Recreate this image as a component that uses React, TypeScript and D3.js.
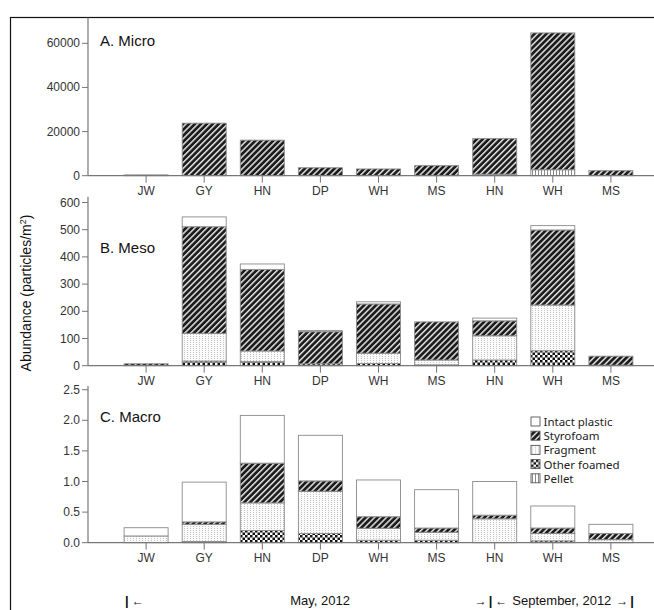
import React from "react";
import * as d3 from "d3";

const categories = ["JW", "GY", "HN", "DP", "WH", "MS", "HN", "WH", "MS"];
const types = ["Pellet", "Other foamed", "Fragment", "Styrofoam", "Intact plastic"];
const legendOrder = ["Intact plastic", "Styrofoam", "Fragment", "Other foamed", "Pellet"];

// Micro (particles/m2)
const microPellet = [0, 0, 0, 0, 0, 0, 700, 2700, 0];
const microOther = [0, 0, 0, 0, 0, 0, 0, 0, 0];
const microFragment = [0, 0, 0, 0, 0, 0, 0, 0, 0];
const microStyro = [350, 23800, 16100, 3600, 3050, 4550, 16100, 62000, 2270];
const microIntact = [0, 0, 0, 0, 0, 0, 0, 0, 0];

// Meso
const mesoPellet = [0, 0, 0, 0, 0, 0, 0, 0, 0];
const mesoOther = [0, 17, 15, 7, 8, 3, 21, 55, 2];
const mesoFragment = [0, 102, 39, 0, 38, 18, 89, 168, 0];
const mesoStyro = [7, 392, 300, 118, 181, 140, 55, 276, 33];
const mesoIntact = [0, 36, 20, 4, 8, 0, 10, 16, 0];

// Macro
const macroPellet = [0, 0, 0, 0, 0, 0, 0, 0, 0];
const macroOther = [0, 0.02, 0.2, 0.15, 0.04, 0.04, 0, 0.03, 0];
const macroFragment = [0.11, 0.28, 0.45, 0.69, 0.195, 0.13, 0.39, 0.12, 0.05];
const macroStyro = [0, 0.04, 0.65, 0.17, 0.19, 0.07, 0.06, 0.09, 0.1];
const macroIntact = [0.135, 0.65, 0.78, 0.745, 0.6, 0.626, 0.55, 0.36, 0.15];

const microTicks = [0, 20000, 40000, 60000];
const mesoTicks = [0, 100, 200, 300, 400, 500, 600];
const macroTicks = [0, 0.5, 1.0, 1.5, 2.0, 2.5];

const fills: Record<string, string> = {
  "Intact plastic": "#ffffff",
  Styrofoam: "url(#pStyro)",
  Fragment: "url(#pFrag)",
  "Other foamed": "url(#pOther)",
  Pellet: "url(#pPellet)",
};

function rows(p: number[], o: number[], f: number[], s: number[], i: number[]) {
  return categories.map((c, k) => ({
    idx: k,
    Pellet: p[k],
    "Other foamed": o[k],
    Fragment: f[k],
    Styrofoam: s[k],
    "Intact plastic": i[k],
  }));
}

const AXIS_X = 88;
const x = d3.scaleLinear().domain([-1, 9]).range([AXIS_X, AXIS_X + 10 * 58.1]);
const BAR_W = 44;
const FONT = "Arial, 'Liberation Sans', sans-serif";

type PanelProps = {
  data: any[];
  y: d3.ScaleLinear<number, number>;
  ticks: number[];
  fmt: (v: number) => string;
  axisTop: number;
  title: string;
  titleY: number;
};

function Panel({ data, y, ticks, fmt, axisTop, title, titleY }: PanelProps) {
  const stack = d3.stack<any>().keys(types)(data);
  const y0 = y(0);
  return (
    <g>
      {stack.map((layer) =>
        layer.map((d, k) => {
          const h = y(d[0]) - y(d[1]);
          if (h <= 0.01) return null;
          return (
            <rect
              key={layer.key + k}
              x={x(k) - BAR_W / 2}
              y={y(d[1])}
              width={BAR_W}
              height={h}
              fill={fills[layer.key]}
              stroke="#8a8a8a"
              strokeWidth={0.9}
            />
          );
        })
      )}
      <line x1={AXIS_X} x2={654} y1={y0} y2={y0} stroke="#777" strokeWidth={1.2} />
      <line x1={AXIS_X} x2={AXIS_X} y1={axisTop} y2={y0} stroke="#777" strokeWidth={1.2} />
      {ticks.map((t) => (
        <g key={t}>
          <line x1={AXIS_X - 6} x2={AXIS_X} y1={y(t)} y2={y(t)} stroke="#777" strokeWidth={1} />
          <text x={AXIS_X - 8} y={y(t) + 4} textAnchor="end" fontSize={12} fill="#333" fontFamily={FONT}>
            {fmt(t)}
          </text>
        </g>
      ))}
      {categories.map((c, k) => (
        <g key={k}>
          <line x1={x(k)} x2={x(k)} y1={y0} y2={y0 + 7} stroke="#777" strokeWidth={1} />
          <text x={x(k)} y={y0 + 19} textAnchor="middle" fontSize={12} fill="#333" fontFamily={FONT}>
            {c}
          </text>
        </g>
      ))}
      <text x={100} y={titleY} fontSize={15} fill="#111" fontFamily={FONT}>
        {title}
      </text>
    </g>
  );
}

export default function App() {
  const yA = d3.scaleLinear().domain([0, 60000]).range([175.7, 43.3]);
  const yB = d3.scaleLinear().domain([0, 600]).range([365.7, 202.5]);
  const yC = d3.scaleLinear().domain([0, 2.5]).range([542.7, 389.7]);
  const microData = rows(microPellet, microOther, microFragment, microStyro, microIntact);
  const mesoData = rows(mesoPellet, mesoOther, mesoFragment, mesoStyro, mesoIntact);
  const macroData = rows(macroPellet, macroOther, macroFragment, macroStyro, macroIntact);

  return (
    <svg width={654} height={610} style={{ position: "absolute", left: 0, top: 0, background: "#fff" }}>
      <defs>
        <pattern id="pStyro" patternUnits="userSpaceOnUse" width={4.2} height={4.2} patternTransform="rotate(45)">
          <rect width={4.2} height={4.2} fill="#1c1c1c" />
          <rect width={1.5} height={4.2} fill="#e0e0e0" />
        </pattern>
        <pattern id="pFrag" patternUnits="userSpaceOnUse" width={3} height={2}>
          <rect width={3} height={2} fill="#fbfbfb" />
          <rect x={1} width={1} height={1} fill="#c4c4c4" />
        </pattern>
        <pattern id="pOther" patternUnits="userSpaceOnUse" width={5} height={5}>
          <rect width={5} height={5} fill="#ffffff" />
          <rect width={2.5} height={2.5} fill="#111" />
          <rect x={2.5} y={2.5} width={2.5} height={2.5} fill="#111" />
        </pattern>
        <pattern id="pPellet" patternUnits="userSpaceOnUse" width={3} height={3}>
          <rect width={3} height={3} fill="#ffffff" />
          <rect x={1} width={1} height={3} fill="#8a8a8a" />
        </pattern>
      </defs>
      <rect x={10.5} y={17.5} width={700} height={700} fill="none" stroke="#111" strokeWidth={1.2} />

      <Panel data={microData} y={yA} ticks={microTicks} fmt={(v) => String(v)} axisTop={17.5} title="A. Micro" titleY={46} />
      <Panel data={mesoData} y={yB} ticks={mesoTicks} fmt={(v) => String(v)} axisTop={196.7} title="B. Meso" titleY={252.7} />
      <Panel data={macroData} y={yC} ticks={macroTicks} fmt={(v) => v.toFixed(1)} axisTop={386} title="C. Macro" titleY={421.7} />

      <text
        transform="translate(31,293) rotate(-90)"
        textAnchor="middle"
        fontSize={14}
        fill="#111"
        fontFamily={FONT}
      >
        Abundance (particles/m<tspan dy={-5} fontSize={9}>2</tspan><tspan dy={5}>)</tspan>
      </text>

      {legendOrder.map((k, i) => (
        <g key={k} transform={`translate(531,${417 + i * 14.2})`}>
          <rect width={9} height={9} fill={fills[k]} stroke="#555" strokeWidth={0.9} />
          <text x={12.5} y={9} fontSize={11.5} fill="#222" fontFamily="'Noto Sans', sans-serif">
            {k}
          </text>
        </g>
      ))}

      <g fontFamily={FONT} fontSize={13} fill="#111">
        <text x={125} y={605}>
          <tspan fontWeight="bold">|</tspan>
          <tspan dx={3} fontSize={12}>←</tspan>
        </text>
        <text x={320} y={605} textAnchor="middle">May, 2012</text>
        <text x={634} y={605} textAnchor="end">
          <tspan fontSize={12}>→</tspan>
          <tspan dx={2} fontWeight="bold">|</tspan>
          <tspan dx={3} fontSize={12}>←</tspan>
          <tspan dx={5}>September, 2012</tspan>
          <tspan dx={5} fontSize={12}>→</tspan>
          <tspan dx={2} fontWeight="bold">|</tspan>
        </text>
      </g>
    </svg>
  );
}
